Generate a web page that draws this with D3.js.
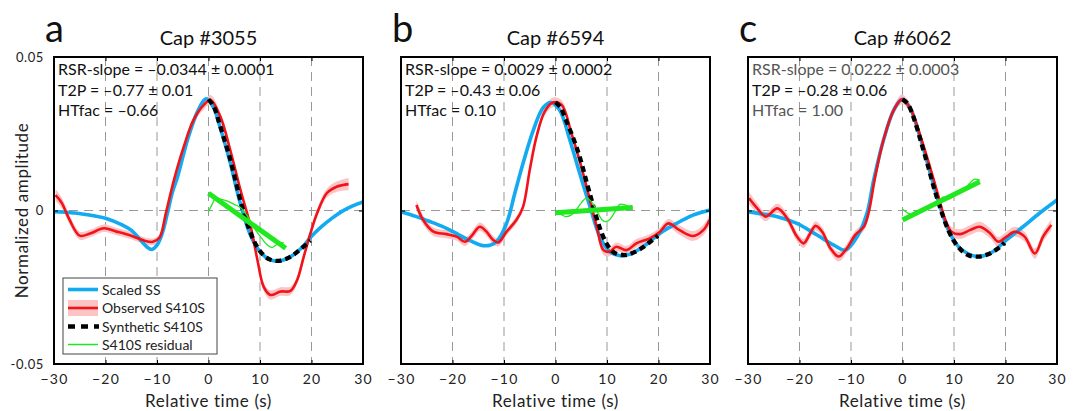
<!DOCTYPE html>
<html>
<head>
<meta charset="utf-8">
<script src="https://cdn.jsdelivr.net/npm/d3@7"></script>
<style>
  body { margin: 0; background: #fff; }
  svg { font-family: Lato, "Noto Sans", sans-serif; }
</style>
</head>
<body>
<div id="chart"></div>
<script>
// ---- data ----
const letters = ["a", "b", "c"];
const titles = ["Cap #3055", "Cap #6594", "Cap #6062"];
const rsrLabels = ["RSR-slope = \u20130.0344 \u00b1 0.0001", "RSR-slope = 0.0029 \u00b1 0.0002", "RSR-slope = 0.0222 \u00b1 0.0003"];
const t2pLabels = ["T2P = \u20130.77 \u00b1 0.01", "T2P = \u20130.43 \u00b1 0.06", "T2P = \u20130.28 \u00b1 0.06"];
const htLabels = ["HTfac = \u20130.66", "HTfac = 0.10", "HTfac = 1.00"];
const xTicks = [-30, -20, -10, 0, 10, 20, 30];
const yTicks = [-0.05, 0, 0.05];
const legendLabels = ["Scaled SS", "Observed S410S", "Synthetic S410S", "S410S residual"];

// scaled SS (blue): [time, amplitude]
const ssA = [[-30,-0.0004],[-26,-0.0008],[-22,-0.0018],[-20,-0.0025],[-17,-0.0045],[-15,-0.0064],[-12,-0.0118],[-11,-0.0127],[-10,-0.0113],[-9,-0.0075],[-8,-0.001],[-7,0.006],[-6,0.011],[-4,0.0235],[-2,0.0327],[-0.5,0.0364],[1,0.0335],[2,0.0285],[4,0.017],[6,0.0034],[8,-0.0074],[10,-0.0134],[12,-0.0161],[14,-0.0164],[16,-0.015],[18,-0.0123],[20,-0.0084],[22,-0.0052],[24,-0.0025],[26,-0.0002],[28,0.0015],[30,0.0028]];
const ssB = [[-30,-0.0004],[-27,-0.002],[-24.4,-0.0036],[-22,-0.0052],[-19.9,-0.0069],[-16.6,-0.0098],[-13.7,-0.0115],[-11.5,-0.0102],[-9.5,-0.0042],[-7.9,0.0056],[-6.3,0.0154],[-4.3,0.0262],[-2.4,0.0335],[-0.9,0.0352],[0.8,0.0327],[2.8,0.0229],[4.7,0.0121],[6.7,0.0012],[8.6,-0.0085],[10.5,-0.0134],[12.5,-0.0147],[14.4,-0.0143],[17,-0.0118],[20.3,-0.0074],[23.5,-0.0042],[26.7,-0.0015],[30,0.0002]];
const ssC = [[-30,-0.0004],[-27,-0.0012],[-24.3,-0.002],[-20.5,-0.0042],[-16.6,-0.008],[-13.4,-0.0112],[-11.1,-0.0129],[-8.8,-0.0085],[-6.9,-0.0009],[-5.6,0.0099],[-3.7,0.0229],[-1.7,0.0327],[-0.1,0.0362],[1.5,0.0333],[3.4,0.024],[5.4,0.0121],[7.3,0.0012],[9.2,-0.0074],[11.2,-0.0123],[14.4,-0.015],[17,-0.014],[20.2,-0.0096],[23.4,-0.0053],[26.6,-0.0009],[30,0.0034]];

// observed S410S (red): [time, amplitude, half width of the shaded band]
const obsA = [[-29.7,0.005,0.0019],[-28.5,0.0025,0.0017],[-27,-0.003,0.0015],[-25,-0.0082,0.0013],[-23,-0.0075,0.0012],[-20.3,-0.0058,0.0012],[-18,-0.0068,0.0012],[-15,-0.0082,0.0012],[-12.5,-0.0098,0.0011],[-10.8,-0.0102,0.0011],[-9.5,-0.0088,0.0011],[-8.3,-0.001,0.001],[-6.7,0.01,0.001],[-4.8,0.0208,0.001],[-2.9,0.0295,0.0012],[-0.9,0.0344,0.0014],[0.4,0.036,0.0016],[2.3,0.0306,0.0012],[4.3,0.0192,0.001],[6.2,0.0067,0.001],[8.2,-0.0053,0.001],[9.5,-0.0161,0.0011],[10.7,-0.0248,0.0013],[12,-0.0275,0.0015],[14,-0.0264,0.0014],[15.9,-0.0262,0.0014],[17.2,-0.0227,0.0012],[18.5,-0.015,0.0012],[19.8,-0.0074,0.0012],[21.1,-0.0008,0.0013],[23,0.0057,0.0015],[25,0.0078,0.0017],[27.2,0.0086,0.002]];
const obsB = [[-27,0.0018,0.0016],[-25.7,-0.0031,0.0015],[-23.7,-0.0069,0.0014],[-21.2,-0.0077,0.0013],[-19.2,-0.0085,0.0013],[-17.6,-0.0102,0.0014],[-16.3,-0.0083,0.0014],[-14.7,-0.0053,0.0014],[-13.4,-0.0069,0.0014],[-12.1,-0.0096,0.0014],[-11.1,-0.0104,0.0013],[-9.5,-0.0069,0.0012],[-7.6,-0.0031,0.0011],[-6.3,0.0012,0.0011],[-5,0.0132,0.0011],[-3.7,0.024,0.0011],[-2.1,0.0322,0.0013],[-0.5,0.0352,0.0016],[1.2,0.0344,0.0015],[3.1,0.0251,0.0012],[5,0.0143,0.0011],[6.7,0.0034,0.0011],[8,-0.0053,0.0012],[9.3,-0.0129,0.0015],[10.5,-0.0134,0.0015],[11.8,-0.0118,0.0014],[13.8,-0.0129,0.0014],[15.7,-0.0107,0.0014],[18.3,-0.0091,0.0014],[20.3,-0.0069,0.0014],[21.9,-0.0042,0.0014],[24.1,-0.0064,0.0015],[26.7,-0.0083,0.0016],[28.7,-0.0064,0.0017],[29.9,-0.0031,0.0018]];
const obsC = [[-29.8,0.004,0.002],[-28.2,0.0007,0.0017],[-26.6,-0.002,0.0015],[-24.3,0.0007,0.0015],[-22.4,-0.0025,0.0015],[-20.5,-0.0085,0.0015],[-19.2,-0.0107,0.0015],[-17.9,-0.0074,0.0015],[-16.9,-0.005,0.0015],[-15.6,-0.0069,0.0015],[-14,-0.0123,0.0015],[-12.4,-0.015,0.0016],[-10.8,-0.0123,0.0015],[-9.2,-0.008,0.0014],[-7.5,-0.0053,0.0013],[-6.6,-0.0009,0.0012],[-5.3,0.011,0.0011],[-3.7,0.0229,0.0011],[-1.7,0.0327,0.0013],[-0.1,0.0362,0.0016],[1.5,0.0333,0.0014],[3.4,0.0246,0.0012],[5.4,0.0138,0.0013],[7,0.0045,0.0014],[8.3,-0.0031,0.0015],[9.5,-0.0069,0.0016],[11.2,-0.0077,0.0016],[13.1,-0.0064,0.0016],[15,-0.0053,0.0016],[17,-0.0074,0.0016],[18.6,-0.0102,0.0016],[20.2,-0.0085,0.0016],[21.8,-0.0069,0.0016],[23.7,-0.0085,0.0016],[25.7,-0.014,0.0017],[27.3,-0.0085,0.0017],[28.9,-0.0047,0.0018]];

// synthetic S410S (black dashed)
const synA = [[0,0.0362],[1,0.034],[2,0.029],[3,0.0235],[4,0.018],[5,0.0115],[6,0.0045],[7,-0.0015],[8,-0.0065],[9,-0.0105],[10,-0.0132],[11,-0.015],[12,-0.016],[13,-0.0164],[14,-0.0163],[15,-0.0158],[16,-0.015],[17,-0.0138],[18,-0.0124],[19,-0.011],[19.8,-0.0098]];
const synB = [[0,0.0352],[1,0.0335],[2,0.0295],[3,0.0255],[4,0.021],[5,0.0158],[6,0.0095],[7,0.0035],[8,-0.0025],[9,-0.0075],[10,-0.011],[11,-0.0132],[12,-0.0142],[13,-0.0145],[14,-0.0144],[15,-0.0138],[16,-0.013],[17,-0.012],[18,-0.0107],[19,-0.0094],[19.9,-0.0082]];
const synC = [[0,0.0362],[1,0.0348],[2,0.031],[3,0.0258],[4,0.02],[5,0.0142],[6,0.008],[7,0.0025],[8,-0.0025],[9,-0.0068],[10,-0.01],[11,-0.0122],[12,-0.0138],[13,-0.0147],[14,-0.015],[15,-0.015],[16,-0.0146],[17,-0.014],[18,-0.013],[19,-0.0118],[19.8,-0.0105]];

// S410S residual (thin green) and its linear fit (thick green)
const resA = [[0,-0.0004],[0.7,0.002],[1.4,0.004],[2.5,0.0036],[3.6,0.0031],[5,0.002],[6.2,0.001],[7,-0.0005],[7.8,-0.0025],[8.6,-0.005],[9.5,-0.0072],[10.3,-0.009],[11.1,-0.0107],[11.8,-0.0117],[12.4,-0.012],[13,-0.0114],[13.7,-0.0107],[14.6,-0.0105]];
const resB = [[0,-0.0006],[1,-0.0012],[2,-0.002],[3,-0.0015],[4,0.0002],[5,0.0025],[6,0.004],[7,0.0028],[8,0],[9,-0.003],[9.7,-0.0036],[10.5,-0.003],[11.5,-0.0005],[12.5,0.002],[13.5,0.0018],[14.5,0.001],[15,0.0009]];
const resC = [[0,0.0004],[1,-0.0008],[2,-0.0015],[3,-0.0008],[4,0.0005],[5,0.0015],[6,0.0022],[7,0.0032],[8,0.0044],[9,0.0038],[10,0.0048],[11,0.0058],[12,0.0068],[13,0.0088],[14,0.0102],[15,0.0098]];
const fitA = [[0,0.0056],[15,-0.0123]];
const fitB = [[0,-0.0007],[15,0.001]];
const fitC = [[0,-0.0031],[15,0.0094]];

const ssData = [ssA, ssB, ssC];
const obsData = [obsA, obsB, obsC];
const synData = [synA, synB, synC];
const resData = [resA, resB, resC];
const fitData = [fitA, fitB, fitC];

// ---- drawing ----
const width = 1080, height = 411;
const plotW = 309, plotH = 307, plotTop = 57;
const plotLefts = [54, 401, 748];

const blue = "#12aaf0", red = "#f2121a", pink = "#fcc4c4", green = "#1fe81f";

const svg = d3.select("#chart").append("svg")
  .attr("width", width)
  .attr("height", height);

const x = d3.scaleLinear().domain([-30, 30]).range([0, plotW]);
const y = d3.scaleLinear().domain([-0.05, 0.05]).range([plotH, 0]);

const line = d3.line()
  .x(d => x(d[0]))
  .y(d => y(d[1]))
  .curve(d3.curveCatmullRom.alpha(0.5));

const band = d3.area()
  .x(d => x(d[0]))
  .y0(d => y(d[1] - d[2]))
  .y1(d => y(d[1] + d[2]))
  .curve(d3.curveCatmullRom.alpha(0.5));

function yFormat(d) {
  if (d === 0) return "0";
  return (d < 0 ? "-" : "") + Math.abs(d).toFixed(2);
}

for (let i = 0; i < 3; i++) {
  const g = svg.append("g")
    .attr("transform", "translate(" + plotLefts[i] + "," + plotTop + ")");

  // grid
  g.selectAll(".vgrid")
    .data(xTicks.filter(t => t > -30 && t < 30))
    .enter().append("line")
    .attr("x1", d => x(d)).attr("x2", d => x(d))
    .attr("y1", 0).attr("y2", plotH)
    .attr("stroke", "#999").attr("stroke-width", 1)
    .attr("stroke-dasharray", "9,6");
  g.append("line")
    .attr("x1", 0).attr("x2", plotW)
    .attr("y1", y(0)).attr("y2", y(0))
    .attr("stroke", "#999").attr("stroke-width", 1)
    .attr("stroke-dasharray", "9,6");

  // curves
  g.append("path").datum(obsData[i])
    .attr("d", band).attr("fill", pink).attr("stroke", "none");
  g.append("path").datum(ssData[i])
    .attr("d", line).attr("fill", "none").attr("stroke", blue).attr("stroke-width", 3.6);
  g.append("path").datum(obsData[i])
    .attr("d", line).attr("fill", "none").attr("stroke", red).attr("stroke-width", 2.6);
  g.append("path").datum(synData[i])
    .attr("d", line).attr("fill", "none").attr("stroke", "#000")
    .attr("stroke-width", 4.3).attr("stroke-dasharray", "6,4");
  g.append("path").datum(resData[i])
    .attr("d", line).attr("fill", "none").attr("stroke", green).attr("stroke-width", 1.3);
  g.append("path").datum(fitData[i])
    .attr("d", d3.line().x(d => x(d[0])).y(d => y(d[1])))
    .attr("fill", "none").attr("stroke", green).attr("stroke-width", 5);

  // axes (ticks inside, MATLAB style box)
  const bottom = g.append("g").attr("transform", "translate(0," + plotH + ")")
    .call(d3.axisBottom(x).tickValues(xTicks).tickSize(-4).tickPadding(10).tickFormat(d3.format("d")));
  const top = g.append("g")
    .call(d3.axisTop(x).tickValues(xTicks).tickSize(-4).tickFormat(""));
  const left = g.append("g")
    .call(d3.axisLeft(y).tickValues(yTicks).tickSize(-4).tickPadding(10)
      .tickFormat(i === 0 ? yFormat : ""));
  const right = g.append("g").attr("transform", "translate(" + plotW + ",0)")
    .call(d3.axisRight(y).tickValues(yTicks).tickSize(-4).tickFormat(""));
  [bottom, top, left, right].forEach(a => {
    a.select(".domain").remove();
    a.selectAll("line").attr("stroke", "#000");
    a.selectAll("text").attr("fill", "#222")
      .style("font-family", "Lato, 'Noto Sans', sans-serif");
  });
  bottom.selectAll("text").style("font-size", "14px").style("letter-spacing", "1.2px");
  left.selectAll("text").style("font-size", "13px").style("letter-spacing", "0.6px");

  g.append("rect")
    .attr("width", plotW).attr("height", plotH)
    .attr("fill", "none").attr("stroke", "#000").attr("stroke-width", 2);

  // annotations
  const ann = g.append("g").style("font-size", "16px");
  ann.append("text").attr("x", 4).attr("y", 18).text(rsrLabels[i])
    .attr("fill", i === 2 ? "#555" : "#111");
  ann.append("text").attr("x", 4).attr("y", 38.5).text(t2pLabels[i]).attr("fill", "#111");
  ann.append("text").attr("x", 4).attr("y", 59).text(htLabels[i])
    .attr("fill", i === 2 ? "#555" : "#111");

  // titles and letters
  g.append("text")
    .attr("x", plotW / 2).attr("y", -12)
    .attr("text-anchor", "middle")
    .style("font-size", "20px").attr("fill", "#111")
    .text(titles[i]);
  g.append("text")
    .attr("x", -9).attr("y", -15)
    .style("font-size", "38px").attr("fill", "#111")
    .text(letters[i]);

  g.append("text")
    .attr("x", plotW / 2).attr("y", plotH + 43)
    .attr("text-anchor", "middle")
    .style("font-size", "17px").style("letter-spacing", "0.6px").attr("fill", "#222")
    .text("Relative time (s)");
}

// y label
svg.append("text")
  .attr("transform", "translate(28," + (plotTop + plotH / 2) + ") rotate(-90)")
  .attr("text-anchor", "middle")
  .style("font-size", "17px").style("letter-spacing", "0.6px").attr("fill", "#222")
  .text("Normalized amplitude");

// legend (panel a)
const leg = svg.append("g").attr("transform", "translate(63,278)");
leg.append("rect").attr("width", 154).attr("height", 76)
  .attr("fill", "#fff").attr("stroke", "#444").attr("stroke-width", 1);
const rowY = [11.5, 30, 48.5, 66.5];
leg.append("line").attr("x1", 5).attr("x2", 35).attr("y1", rowY[0]).attr("y2", rowY[0])
  .attr("stroke", blue).attr("stroke-width", 3.6);
leg.append("rect").attr("x", 5).attr("y", rowY[1] - 8).attr("width", 30).attr("height", 16)
  .attr("fill", pink);
leg.append("line").attr("x1", 5).attr("x2", 35).attr("y1", rowY[1]).attr("y2", rowY[1])
  .attr("stroke", red).attr("stroke-width", 2.6);
leg.append("line").attr("x1", 5).attr("x2", 36).attr("y1", rowY[2]).attr("y2", rowY[2])
  .attr("stroke", "#000").attr("stroke-width", 4.3).attr("stroke-dasharray", "7,6");
leg.append("line").attr("x1", 5).attr("x2", 35).attr("y1", rowY[3]).attr("y2", rowY[3])
  .attr("stroke", green).attr("stroke-width", 1.5);
leg.selectAll(".lab")
  .data(legendLabels)
  .enter().append("text")
  .attr("x", 39).attr("y", (d, k) => rowY[k] + 5)
  .style("font-size", "14px").attr("fill", "#222")
  .text(d => d);
</script>
</body>
</html>
